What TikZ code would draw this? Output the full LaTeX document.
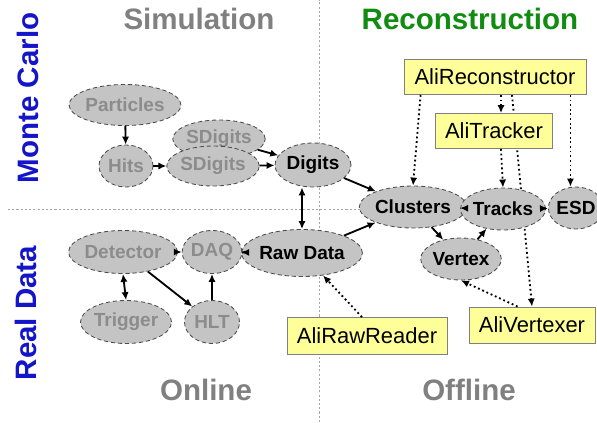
\documentclass[tikz,border=0pt]{standalone}
\usepackage{fontspec}
\setmainfont{Liberation Sans}
\usetikzlibrary{arrows.meta, positioning, calc, shapes.geometric, backgrounds}

\definecolor{mcblue}{RGB}{20,20,200}
\definecolor{recgreen}{RGB}{16,140,16}
\definecolor{titlegray}{RGB}{128,128,128}
\definecolor{ellfill}{RGB}{196,196,196}
\definecolor{elltext}{RGB}{140,140,140}
\definecolor{boxyellow}{RGB}{255,255,153}

\begin{document}
\begin{tikzpicture}[
  title/.style={font=\fontsize{21}{24}\selectfont\bfseries},
  blob/.style={ellipse, draw=black!70, densely dashed, line width=0.6pt, fill=ellfill, inner sep=0pt,
    font=\fontsize{13.5}{15}\selectfont\bfseries},
  dims/.style 2 args={minimum width=#1cm, minimum height=#2cm},
  ali/.style={draw=black!50, line width=0.6pt, fill=boxyellow, inner sep=0pt,
    font=\fontsize{15.6}{18}\selectfont},
  arr/.style={-{Latex[length=2mm,width=1.8mm]}, line width=1.3pt},
  darr/.style={{Latex[length=2mm,width=1.8mm]}-{Latex[length=2mm,width=1.8mm]}, line width=1.3pt},
  dotarr/.style={-{Latex[length=2mm,width=1.8mm]}, line width=1.3pt, dotted},
  divider/.style={gray!70, line width=0.6pt, dash pattern=on 1.5pt off 1.5pt}
]
\useasboundingbox (0,0) rectangle (14.925,10.55);

% Trennlinien
\draw[divider] (7.975,0) -- (7.975,10.55);
\draw[divider] (0.2,5.325) -- (14.925,5.325);

% Ueberschriften
\node[title, text=mcblue, rotate=90] (mc) at (0.7,8.1) {Monte Carlo};
\node[title, text=mcblue, rotate=90] (real) at (0.65,2.725) {Real Data};
\node[title, text=titlegray] (sim) at (4.975,10.075) {Simulation};
\node[title, text=recgreen] (rec) at (11.75,10.075) {Reconstruction};
\node[title, text=titlegray] (online) at (5.15,0.8) {Online};
\node[title, text=titlegray] (offline) at (11.725,0.8) {Offline};

% Simulation
\node[blob, dims={2.425}{1.025}, text=elltext] (particles) at (3.125,7.925) {Particles};
\node[blob, dims={1.35}{1.05}, text=elltext] (hits) at (3.15,6.4) {Hits};
\node[blob, dims={2.3}{0.95}, text=elltext] (sdigback) at (5.475,7.075) {SDigits};
\node[blob, dims={2.25}{1.0}, text=elltext] (sdigits) at (5.325,6.4) {SDigits};
\node[blob, dims={1.9}{1.1}] (digits) at (7.825,6.425) {Digits};

% Online
\node[blob, dims={2.275}{1.075}, text=elltext] (detector) at (3.075,4.25) {Detector};
\node[blob, dims={1.325}{1.075}, text=elltext] (daq) at (5.3,4.25) {DAQ};
\node[blob, dims={1.875}{1.075}, text=elltext] (trigger) at (3.15,2.5) {Trigger};
\node[blob, dims={1.375}{1.075}, text=elltext] (hlt) at (5.3,2.5) {HLT};
\node[blob, dims={2.35}{1.175}] (raw) at (7.55,4.225) {Raw Data};

% Rekonstruktion
\node[blob, dims={2.0}{1.05}] (clusters) at (10.325,5.375) {Clusters};
\node[blob, dims={1.75}{1.05}] (tracks) at (12.575,5.325) {Tracks};
\node[blob, dims={1.05}{1.05}] (esd) at (14.4,5.35) {ESD};
\node[blob, dims={1.775}{1.05}] (vertex) at (11.525,4.075) {Vertex};

% Klassen
\node[ali, dims={4.55}{0.875}] (reco) at (12.375,8.625) {AliReconstructor};
\node[ali, dims={2.925}{0.875}] (tracker) at (12.35,7.275) {AliTracker};
\node[ali, dims={4.0}{0.925}] (rawreader) at (9.175,2.15) {AliRawReader};
\node[ali, dims={3.15}{0.9}] (vertexer) at (13.3,2.425) {AliVertexer};

% Datenfluss
\draw[arr] (particles) -- (hits);
\draw[arr] (hits) -- (sdigits);
\draw[arr] (sdigits) -- (digits);
\draw[arr] (sdigback) -- (digits);
\draw[darr] (raw.north) -- (raw.north |- digits.south);
\draw[arr] (digits) -- (clusters);
\draw[arr] (raw) -- (clusters);
\draw[arr] (detector) -- (daq);
\draw[arr] (daq) -- (raw);
\draw[darr] (detector.south) -- (trigger.north);
\draw[arr] (detector) -- (hlt);
\draw[arr] (hlt.north) -- (daq.south);
\draw[arr] (clusters) -- (tracks);
\draw[arr] (tracks) -- (esd);
\draw[arr] (clusters) -- (vertex);
\draw[arr] (vertex) -- (tracks);

% Aufrufe
\draw[dotarr] ([xshift=0.425cm]reco.south west) -- (clusters.north);
\draw[dotarr] ([xshift=0.15cm]reco.south) -- ([xshift=0.15cm]reco.south |- tracker.north);
\draw[dotarr] ([xshift=0.175cm]tracker.south) -- (tracks.north);
\draw[dotarr] ([xshift=-0.4cm]reco.south east) coordinate (r3) -- (r3 |- esd.north);
\begin{scope}[on background layer]
\draw[dotarr] ([xshift=0.425cm]reco.south) -- (vertexer.north);
\end{scope}
\draw[dotarr] ([xshift=1.225cm]vertexer.north west) -- (vertex.south);
\draw[dotarr] ([xshift=-0.125cm]rawreader.north) -- (raw);

\end{tikzpicture}
\end{document}
